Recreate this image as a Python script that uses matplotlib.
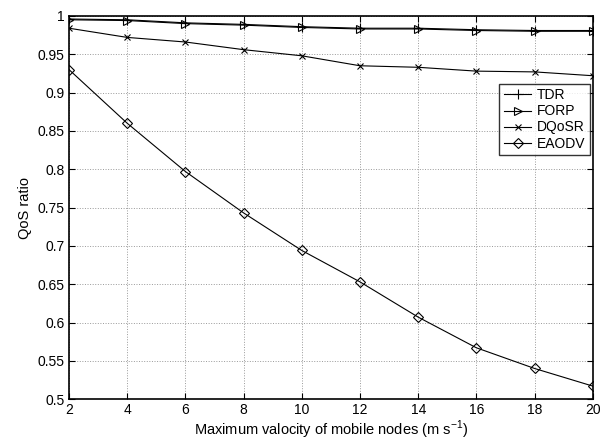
import matplotlib
matplotlib.use("Agg")
import matplotlib.pyplot as plt
from matplotlib.ticker import FormatStrFormatter

plt.rcParams['font.family'] = ['Liberation Sans', 'DejaVu Sans']
plt.rcParams['mathtext.fontset'] = 'custom'
plt.rcParams['mathtext.rm'] = 'Liberation Sans'

# data
speed = [2, 4, 6, 8, 10, 12, 14, 16, 18, 20]
tdr = [0.996, 0.995, 0.991, 0.989, 0.986, 0.984, 0.984, 0.982, 0.981, 0.981]
forp = [0.995, 0.994, 0.990, 0.988, 0.985, 0.983, 0.983, 0.981, 0.980, 0.980]
dqosr = [0.984, 0.972, 0.966, 0.956, 0.948, 0.935, 0.933, 0.928, 0.927, 0.922]
eaodv = [0.930, 0.860, 0.797, 0.743, 0.694, 0.653, 0.607, 0.567, 0.540, 0.517]

fig = plt.figure(figsize=(6, 4.43), dpi=100)
ax = fig.add_axes([0.115, 0.099, 0.873, 0.865])

ax.plot(speed, tdr, 'k-', marker='+', ms=7, mew=0.8, lw=0.8, label='TDR')
ax.plot(speed, forp, 'k-', marker='>', ms=6, mfc='none', mew=0.8, lw=0.8, label='FORP')
ax.plot(speed, dqosr, 'k-', marker='x', ms=4, mew=0.8, lw=0.8, label='DQoSR')
ax.plot(speed, eaodv, 'k-', marker='D', ms=5, mfc='none', mew=0.8, lw=0.8, label='EAODV')

ax.set_xlim(2, 20)
ax.set_ylim(0.5, 1)
ax.set_xticks(range(2, 21, 2))
ax.set_yticks([0.5 + 0.05 * i for i in range(11)])
ax.yaxis.set_major_formatter(FormatStrFormatter('%g'))
ax.tick_params(direction='in', top=True, right=True, labelsize=10, length=4, pad=3)
ax.grid(True, linestyle=':', color='#999999', lw=0.7)
for s in ax.spines.values():
    s.set_linewidth(1.2)

ax.set_xlabel('Maximum valocity of mobile nodes (m s$^{-1}$)', fontsize=10.5, labelpad=1)
ax.set_ylabel('QoS ratio', fontsize=10.5)

leg = ax.legend(loc='upper right', bbox_to_anchor=(0.994, 0.822), fancybox=False,
                edgecolor='black', fontsize=10, handlelength=2, borderpad=0.3,
                labelspacing=0.15, handletextpad=0.4, borderaxespad=0)
leg.get_frame().set_linewidth(1.0)

fig.savefig('out.png', dpi=100)
